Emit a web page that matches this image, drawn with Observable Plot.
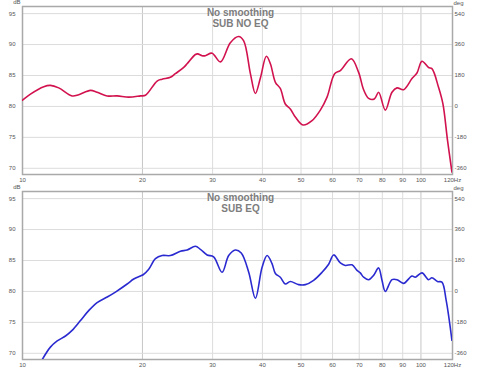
<!DOCTYPE html>
<html>
<head>
<meta charset="utf-8">
<script src="https://cdn.jsdelivr.net/npm/d3@7"></script>
<script src="https://cdn.jsdelivr.net/npm/@observablehq/plot@0.6"></script>
<style>
  html, body { margin: 0; padding: 0; background: #fff; }
  #chart svg { display: block; }
</style>
</head>
<body>
<div id="chart"></div>
<script>
// ---- data ----
const topFreq = [10, 10.47, 11.31, 11.75, 12.33, 13.32, 13.84, 14.81, 15.39, 16.31, 17.28, 18.48, 19.77, 20.35, 21.77, 22.41, 23.5, 24.19, 25.39, 25.89, 27.16, 27.52, 28.23, 28.77, 29.91, 31.39, 33.24, 34.87, 35.9, 37.32, 38.41, 39.54, 40.93, 41.89, 43.12, 44.36, 45.66, 47.0, 48.38, 50.58, 53.29, 55.91, 58.12, 60.73, 62.76, 66.87, 69.75, 71.8, 73.9, 76.37, 78.29, 81.38, 84.59, 87.07, 90.44, 94.94, 97.72, 100.58, 104.48, 106.56, 110.69, 113.54, 116.6, 119.6];
const topDb   = [81.0, 82.0, 83.2, 83.4, 83.0, 81.7, 81.9, 82.6, 82.3, 81.7, 81.7, 81.5, 81.7, 81.8, 84.1, 84.4, 84.7, 85.3, 86.3, 86.9, 88.4, 88.5, 88.2, 88.2, 88.6, 87.2, 90.3, 91.3, 90.6, 85.3, 82.1, 84.6, 88.1, 86.9, 83.9, 82.9, 80.4, 79.6, 78.3, 77.0, 77.7, 79.4, 81.5, 85.3, 85.8, 87.7, 85.5, 82.7, 81.3, 81.2, 82.3, 79.4, 82.3, 83.0, 82.7, 84.5, 85.4, 87.3, 86.3, 86.1, 83.1, 80.4, 74.5, 69.4];

const botFreq = [11.21, 11.75, 12.22, 12.82, 13.32, 13.98, 14.66, 15.39, 16.31, 17.11, 18.31, 19.02, 19.77, 20.08, 20.74, 21.56, 22.41, 23.5, 24.91, 25.89, 27.16, 27.96, 29.06, 30.18, 31.69, 32.92, 34.21, 35.4, 36.96, 38.41, 39.93, 41.1, 42.29, 43.12, 44.36, 45.66, 47.0, 49.32, 51.26, 53.78, 56.47, 58.66, 60.38, 62.76, 64.6, 67.14, 69.1, 70.43, 71.8, 73.9, 76.06, 78.29, 79.84, 81.38, 84.59, 87.07, 90.44, 94.94, 96.76, 100.58, 104.48, 106.56, 110.05, 112.89, 115.73, 119.6];
const botDb   = [69.0, 71.0, 72.0, 72.8, 73.7, 75.3, 76.9, 78.2, 79.1, 79.9, 81.2, 82.0, 82.5, 82.7, 83.6, 85.3, 85.8, 85.8, 86.5, 86.7, 87.3, 86.8, 85.9, 85.6, 83.1, 85.8, 86.7, 86.2, 83.1, 78.9, 83.9, 85.8, 84.5, 82.9, 82.3, 81.2, 81.6, 81.1, 81.1, 81.8, 83.1, 84.4, 85.9, 84.6, 84.2, 84.3, 83.4, 83.0, 82.3, 81.9, 82.6, 83.8, 81.8, 80.0, 81.9, 81.9, 81.3, 82.5, 82.3, 83.0, 81.9, 82.2, 81.6, 81.5, 78.5, 72.1];

const xTicks = [10, 20, 30, 40, 50, 60, 70, 80, 90, 100, 120];
const xTickLabels = ["10", "20", "30", "40", "50", "60", "70", "80", "90", "100", "120Hz"];
const xGridMinor = [30, 40, 50, 60, 70, 80, 90];
const xGridMajor = [20, 100];
const yTicks = [70, 75, 80, 85, 90, 95];
const degLabels = ["-360", "-180", "0", "180", "360", "540"];

const titleLine1 = "No smoothing";
const topTitle = "SUB NO EQ";
const botTitle = "SUB EQ";
const topColor = "#d1124e";
const botColor = "#2a2ad0";

function panel(freq, db, color, subtitle, height, marginBottom) {
  const data = freq.map((f, i) => ({f, db: db[i]}));
  return Plot.plot({
    width: 480,
    height,
    marginTop: 6,
    marginBottom,
    marginLeft: 22,
    marginRight: 28,
    style: {fontFamily: "'Liberation Sans', Arial, sans-serif", fontSize: "6px", color: "#555", background: "#fff"},
    x: {type: "log", domain: [10, 120], axis: null},
    y: {domain: [69, 96.15], axis: null},
    marks: [
      Plot.ruleX(xGridMinor, {x: d => d, stroke: "#dcdcdc"}),
      Plot.ruleX(xGridMajor, {x: d => d, stroke: "#c6c6c6"}),
      Plot.ruleY(yTicks, {y: d => d, stroke: "#dcdcdc"}),
      Plot.frame({stroke: "#a9a9a9", strokeWidth: 1.5}),
      Plot.line(data, {x: "f", y: "db", stroke: color, strokeWidth: 1.6, curve: "catmull-rom", clip: true}),
      Plot.text(xTicks, {x: d => d, text: (d, i) => xTickLabels[i], frameAnchor: "bottom", dy: 3.5, lineAnchor: "top", fill: "#555", fontSize: 6}),
      Plot.text(yTicks, {y: d => d, text: d => String(d), frameAnchor: "left", dx: -7, textAnchor: "end", lineAnchor: "middle", fill: "#555", fontSize: 6}),
      Plot.text(yTicks, {y: d => d, text: (d, i) => degLabels[i], frameAnchor: "right", dx: 2, textAnchor: "start", lineAnchor: "middle", fill: "#555", fontSize: 6}),
      Plot.text(["dB"], {frameAnchor: "top-left", dx: -2, dy: -4, textAnchor: "end", lineAnchor: "middle", fill: "#555", fontSize: 6}),
      Plot.text(["deg"], {frameAnchor: "top-right", dx: 1, dy: -3, textAnchor: "start", lineAnchor: "middle", fill: "#555", fontSize: 6}),
      Plot.text([titleLine1], {frameAnchor: "top", dx: 3, dy: 6.5, lineAnchor: "middle", fontSize: 10, fontWeight: "bold", fill: "#7d7d7d"}),
      Plot.text([subtitle], {frameAnchor: "top", dx: 3, dy: 17.3, lineAnchor: "middle", fontSize: 10, fontWeight: "bold", fill: "#7d7d7d"})
    ]
  });
}

const root = document.getElementById("chart");
root.appendChild(panel(topFreq, topDb, topColor, topTitle, 185, 11));
root.appendChild(panel(botFreq, botDb, botColor, botTitle, 184, 10));
</script>
</body>
</html>
